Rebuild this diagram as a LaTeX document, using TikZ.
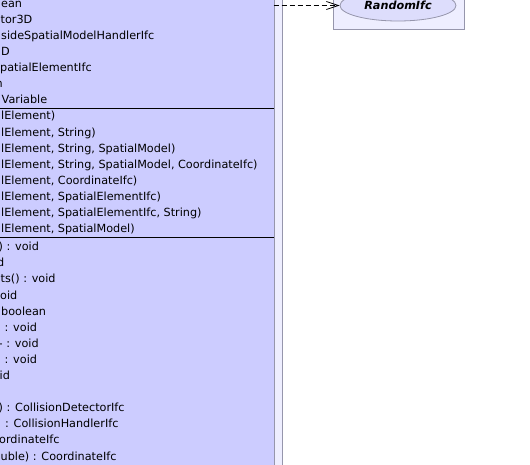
\documentclass[tikz,border=0pt]{standalone}
\usepackage{fontspec}
\setmainfont{DejaVu Sans}
\usetikzlibrary{arrows.meta,shapes.geometric}
\definecolor{clsfill}{RGB}{204,204,255}
\definecolor{pkgfill}{RGB}{238,238,255}
\definecolor{ellfill}{RGB}{221,221,252}
\definecolor{edge}{RGB}{150,150,172}
\newcommand{\memfont}{\fontsize{11.23}{13}\selectfont}
\tikzset{
  mem/.style={anchor=base west, inner sep=0pt, font=\memfont},
  sep/.style={draw=black, line width=0.9pt},
  dep/.style={draw=black, line width=0.8pt, dash pattern=on 5pt off 3pt,
              -{Straight Barb[length=12pt,width=8pt]}},
}
\begin{document}
\begin{tikzpicture}[x=1pt,y=-1pt]
\useasboundingbox (0,0) rectangle (530,465);
% outer container and class box
\node[draw=edge, fill=pkgfill, line width=1pt, anchor=north west, minimum width=301.7pt, minimum height=500pt, inner sep=0pt] (pkg) at (-20,-20) {};
\node[draw=edge, fill=clsfill, line width=1pt, anchor=north west, minimum width=284.2pt, minimum height=500pt, inner sep=0pt] (cls) at (-10,-15) {};
% RandomIfc box
\node[draw=edge, fill=pkgfill, line width=1pt, anchor=north west, minimum width=131.5pt, minimum height=49pt, inner sep=0pt] (rbox) at (332.5,-20) {};
\node[ellipse, draw=edge, fill=ellfill, line width=0.8pt, minimum width=116pt, minimum height=31pt, inner sep=0pt, font=\memfont\bfseries\itshape] (rnd) at (398,5.5) {RandomIfc};
% separators
\draw[sep] (-10,108.3) -- (273.7,108.3);
\draw[sep] (-10,237.8) -- (273.7,237.8);
% attributes
\node[mem] (a1) at (1,8) {ean};
\node[mem] (a2) at (0.5,24) {tor3D};
\node[mem] (a3) at (1,40) {sideSpatialModelHandlerIfc};
\node[mem] (a4) at (1,56) {D};
\node[mem] (a5) at (0,72) {patialElementIfc};
\node[mem] (a6) at (-4.5,88) {n};
\node[mem] (a7) at (1.5,104) {Variable};
% constructors
\node[mem] (c1) at (1,120) {lElement)};
\node[mem] (c2) at (1,136.1) {lElement, String)};
\node[mem] (c3) at (1,152.2) {lElement, String, SpatialModel)};
\node[mem] (c4) at (1,168.3) {lElement, String, SpatialModel, CoordinateIfc)};
\node[mem] (c5) at (1,184.4) {lElement, CoordinateIfc)};
\node[mem] (c6) at (1,200.5) {lElement, SpatialElementIfc)};
\node[mem] (c7) at (1,216.6) {lElement, SpatialElementIfc, String)};
\node[mem] (c8) at (1,232.7) {lElement, SpatialModel)};
% methods
\node[mem] (m1) at (-1.5,250.7) {) : void};
\node[mem] (m2) at (-3,266.8) {d};
\node[mem] (m3) at (0.5,282.9) {ts() : void};
\node[mem] (m4) at (0,299) {oid};
\node[mem] (m5) at (1,315.1) {boolean};
\node[mem] (m6) at (4.5,331.2) {: void};
\node[mem] (m7) at (-1.5,347.3) {- : void};
\node[mem] (m8) at (4.5,363.4) {: void};
\node[mem] (m9) at (-0.5,379.5) {id};
\node[mem] (m10) at (-1.5,411.7) {) : CollisionDetectorIfc};
\node[mem] (m11) at (5,427.8) {: CollisionHandlerIfc};
\node[mem] (m12) at (-1,443.9) {ordinateIfc};
\node[mem] (m13) at (0.5,460) {uble) : CoordinateIfc};
% dependency
\coordinate (src) at (273.5,5.5);
\draw[dep] (src) -- (rnd.west);
\end{tikzpicture}
\end{document}
